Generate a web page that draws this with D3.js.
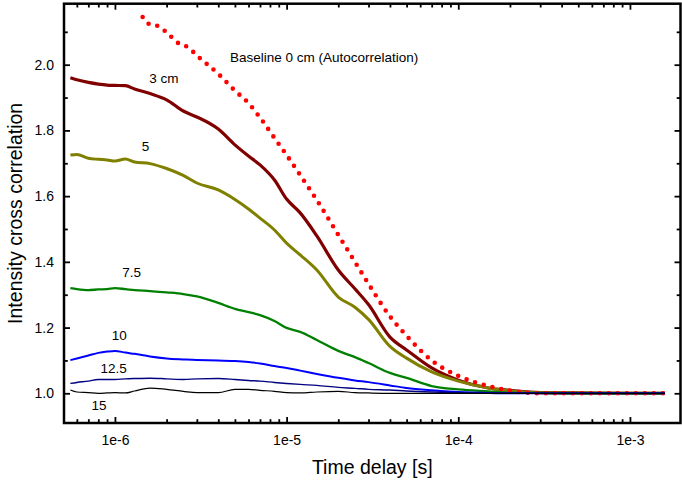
<!DOCTYPE html>
<html>
<head>
<meta charset="utf-8">
<script src="https://cdn.jsdelivr.net/npm/d3@7"></script>
<style>
  html, body { margin: 0; padding: 0; background: #fff; }
  svg { display: block; font-family: "Liberation Sans", Arial, sans-serif; }
</style>
</head>
<body>
<svg id="chart" width="682" height="485"></svg>
<script>
// ---------- data ----------
const tau = [5.5e-7, 6e-7, 7e-7, 8e-7, 9e-7, 1e-6, 1.15e-6, 1.3e-6, 1.6e-6, 2e-6, 2.5e-6, 3e-6, 4e-6, 5e-6, 6e-6, 7e-6, 8.5e-6,
             1e-5, 1.2e-5, 1.5e-5, 2e-5, 2.5e-5, 3e-5, 4e-5, 5e-5, 7e-5, 1e-4, 1.5e-4, 2e-4, 3e-4, 5e-4, 1e-3, 1.6e-3];
const g3cm   = [1.960, 1.954, 1.946, 1.941, 1.938, 1.937, 1.936, 1.926, 1.912, 1.893, 1.859, 1.841, 1.804, 1.756, 1.722, 1.695, 1.649,
                1.591, 1.549, 1.479, 1.375, 1.318, 1.270, 1.171, 1.132, 1.077, 1.040, 1.016, 1.009, 1.002, 1.001, 1.000, 1.000];
const g5cm   = [1.725, 1.727, 1.715, 1.712, 1.710, 1.707, 1.713, 1.704, 1.699, 1.684, 1.663, 1.640, 1.619, 1.590, 1.561, 1.533, 1.497,
                1.457, 1.421, 1.375, 1.293, 1.262, 1.225, 1.143, 1.107, 1.065, 1.037, 1.016, 1.007, 1.002, 1.001, 1.000, 1.000];
const g7_5cm = [1.320, 1.317, 1.314, 1.316, 1.317, 1.320, 1.317, 1.314, 1.311, 1.307, 1.302, 1.295, 1.275, 1.257, 1.247, 1.238, 1.220,
                1.199, 1.187, 1.162, 1.129, 1.110, 1.092, 1.062, 1.047, 1.022, 1.012, 1.006, 1.002, 1.001, 1.000, 1.000, 1.000];
const g10cm  = [1.101, 1.106, 1.115, 1.123, 1.127, 1.129, 1.124, 1.120, 1.112, 1.106, 1.103, 1.101, 1.100, 1.098, 1.095, 1.091, 1.083,
                1.077, 1.069, 1.059, 1.047, 1.039, 1.034, 1.024, 1.016, 1.009, 1.004, 1.001, 1.000, 1.000, 1.000, 1.000, 1.000];
const g12_5cm= [1.030, 1.033, 1.037, 1.042, 1.042, 1.042, 1.044, 1.045, 1.046, 1.044, 1.042, 1.044, 1.045, 1.042, 1.039, 1.037, 1.033,
                1.030, 1.027, 1.024, 1.018, 1.015, 1.012, 1.010, 1.007, 1.004, 1.002, 1.000, 1.000, 1.000, 1.000, 1.000, 1.000];
const g15cm  = [1.010, 1.004, 1.002, 1.000, 1.001, 1.002, 1.001, 1.007, 1.016, 1.012, 1.006, 1.002, 1.002, 1.012, 1.012, 1.009, 1.006,
                1.002, 1.001, 1.004, 1.006, 1.002, 1.001, 1.000, 1.000, 1.000, 1.000, 1.000, 1.000, 1.000, 1.000, 1.000, 1.000];

// baseline (autocorrelation), dotted
const tauAuto = [1.45e-6, 1.6e-6, 1.8e-6, 2e-6, 2.4e-6, 2.65e-6, 3e-6, 4e-6, 5e-6, 6e-6, 7e-6, 8.5e-6, 1e-5, 1.2e-5, 1.5e-5,
                 2e-5, 2.5e-5, 3e-5, 4e-5, 5e-5, 7e-5, 1e-4, 1.5e-4, 2e-4, 3e-4, 5e-4, 1e-3, 1.6e-3];
const gAuto   = [2.145, 2.122, 2.117, 2.098, 2.062, 2.054, 2.028, 1.972, 1.921, 1.883, 1.839, 1.777, 1.725, 1.664, 1.588,
                 1.482, 1.400, 1.333, 1.234, 1.175, 1.100, 1.053, 1.022, 1.008, 1.000, 1.000, 1.000, 1.000];

const seriesNames  = ["3 cm", "5", "7.5", "10", "12.5", "15"];
const seriesValues = [g3cm, g5cm, g7_5cm, g10cm, g12_5cm, g15cm];
const seriesColors = ["#800000", "#808000", "#008000", "#0000ff", "#000080", "#000000"];
const seriesWidths = [3.2, 3, 2.3, 2, 1.4, 1.2];

// text labels anchored at data coordinates [tau, g]
const labelTexts = ["Baseline 0 cm (Autocorrelation)", "3 cm", "5", "7.5", "10", "12.5", "15"];
const labelTau   = [4.68e-6, 1.585e-6, 1.431e-6, 1.103e-6, 9.57e-7, 8.25e-7, 7.31e-7];
const labelG     = [2.009, 1.943, 1.736, 1.355, 1.161, 1.063, 0.949];

const xMajorTicks = [1e-6, 1e-5, 1e-4, 1e-3];
const yMajorTicks = [1.0, 1.2, 1.4, 1.6, 1.8, 2.0];
const yMinorTicks = [1.1, 1.3, 1.5, 1.7, 1.9, 2.1];

// ---------- layout ----------
const L = 64, R = 680.5, T = 3.7, B = 423;
const svg = d3.select("#chart");

const x = d3.scaleLog().domain([5.05e-7, 1.97e-3]).range([L, R]);
const y = d3.scaleLinear().domain([0.9096, 2.1856]).range([B, T]);

const xMinorTicks = [];
[1e-7, 1e-6, 1e-5, 1e-4, 1e-3].forEach(d => {
  for (let k = 2; k <= 9; k++) {
    const v = d * k;
    if (v > x.domain()[0] && v < x.domain()[1]) xMinorTicks.push(v);
  }
});

svg.append("defs").append("clipPath").attr("id", "clip")
  .append("rect").attr("x", L).attr("y", T).attr("width", R - L).attr("height", B - T);

const plot = svg.append("g").attr("clip-path", "url(#clip)");
const line = d3.line().x(d => x(d[0])).y(d => y(d[1])).curve(d3.curveMonotoneX);

function drawSeries(i) {
  plot.append("path")
    .datum(tau.map((t, j) => [t, seriesValues[i][j]]))
    .attr("d", line)
    .attr("fill", "none")
    .attr("stroke", seriesColors[i])
    .attr("stroke-width", seriesWidths[i])
    .attr("stroke-linejoin", "round");
}

// thick curves first
[0, 1, 2].forEach(drawSeries);

// dotted autocorrelation
plot.append("path")
  .datum(tauAuto.map((t, i) => [t, gAuto[i]]))
  .attr("d", line)
  .attr("fill", "none")
  .attr("stroke", "#ff0000")
  .attr("stroke-width", 4.6)
  .attr("stroke-linecap", "round")
  .attr("stroke-dasharray", "0 9");

// thin curves on top
[3, 4, 5].forEach(drawSeries);

// labels
labelTexts.forEach((t, i) => {
  svg.append("text")
    .attr("x", x(labelTau[i]))
    .attr("y", y(labelG[i]))
    .attr("font-size", 13.5)
    .attr("fill", "#000")
    .text(t);
});

// ---------- axes ----------
function styleAxis(g) {
  g.select(".domain").remove();
  g.selectAll(".tick line").attr("stroke", "#000").attr("stroke-width", 1.8);
  g.selectAll(".tick text").attr("fill", "#000").attr("font-size", 14)
    .attr("font-family", "Liberation Sans, Arial, sans-serif");
}
const fmtX = d => "1e" + Math.round(Math.log10(d));

svg.append("g").attr("transform", `translate(0,${B})`)
  .call(d3.axisBottom(x).tickValues(xMajorTicks).tickSize(-6).tickPadding(12).tickFormat(fmtX))
  .call(styleAxis);
svg.append("g").attr("transform", `translate(0,${B})`)
  .call(d3.axisBottom(x).tickValues(xMinorTicks).tickSize(-3.8).tickFormat(""))
  .call(styleAxis);
svg.append("g").attr("transform", `translate(0,${T})`)
  .call(d3.axisTop(x).tickValues(xMajorTicks).tickSize(-6).tickFormat(""))
  .call(styleAxis);
svg.append("g").attr("transform", `translate(0,${T})`)
  .call(d3.axisTop(x).tickValues(xMinorTicks).tickSize(-3.8).tickFormat(""))
  .call(styleAxis);

svg.append("g").attr("transform", `translate(${L},0)`)
  .call(d3.axisLeft(y).tickValues(yMajorTicks).tickSize(-6).tickPadding(10).tickFormat(d3.format(".1f")))
  .call(styleAxis);
svg.append("g").attr("transform", `translate(${L},0)`)
  .call(d3.axisLeft(y).tickValues(yMinorTicks).tickSize(-3.8).tickFormat(""))
  .call(styleAxis);
svg.append("g").attr("transform", `translate(${R},0)`)
  .call(d3.axisRight(y).tickValues(yMajorTicks).tickSize(-6).tickFormat(""))
  .call(styleAxis);
svg.append("g").attr("transform", `translate(${R},0)`)
  .call(d3.axisRight(y).tickValues(yMinorTicks).tickSize(-3.8).tickFormat(""))
  .call(styleAxis);

// frame
svg.append("rect")
  .attr("x", L).attr("y", T).attr("width", R - L).attr("height", B - T)
  .attr("fill", "none").attr("stroke", "#000").attr("stroke-width", 2.5);

// axis titles
svg.append("text")
  .attr("x", (L + R) / 2).attr("y", 474)
  .attr("text-anchor", "middle").attr("font-size", 19.5).attr("fill", "#000")
  .text("Time delay [s]");
svg.append("text")
  .attr("transform", `translate(22,${(T + B) / 2}) rotate(-90)`)
  .attr("text-anchor", "middle").attr("font-size", 19.5).attr("fill", "#000")
  .text("Intensity cross correlation");
</script>
</body>
</html>
